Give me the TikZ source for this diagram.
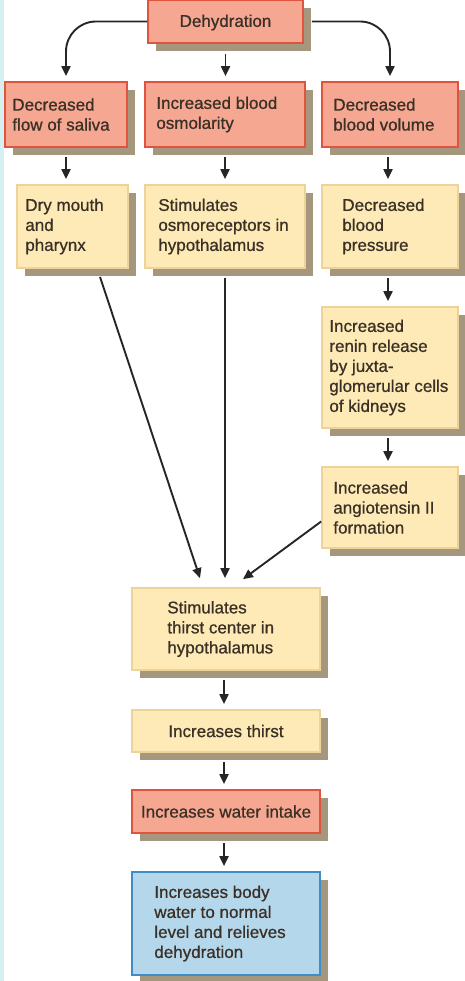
\documentclass[tikz,border=0pt]{standalone}
\usepackage{fontspec}
\setmainfont{Liberation Sans}
\newfontfamily\medfont{Liberation Sans}[FakeBold=0.8]
\usetikzlibrary{shadows,arrows.meta}
\definecolor{salmonf}{HTML}{F5A792}
\definecolor{salmonline}{HTML}{E0533C}
\definecolor{yellf}{HTML}{FDEAB6}
\definecolor{yellline}{HTML}{EDD29A}
\definecolor{bluef}{HTML}{B5D7EB}
\definecolor{blueline}{HTML}{3E8DC6}
\definecolor{shad}{HTML}{A4977E}
\definecolor{txtc}{HTML}{3A3026}
\definecolor{edgec}{HTML}{D6F0F2}
\begin{document}
\begin{tikzpicture}[x=1pt,y=-1pt,
  box/.style={rectangle, line width=1.7pt, inner sep=0pt,
    general shadow={fill=shad, shadow xshift=8pt, shadow yshift=-8pt}},
  redbox/.style={box, fill=salmonf, draw=salmonline},
  yellowbox/.style={box, fill=yellf, draw=yellline},
  bluebox/.style={box, fill=bluef, draw=blueline},
  txt/.style={font=\medfont\fontsize{17}{20}\selectfont, text=txtc, align=left, inner sep=0pt, anchor=west},
  ctxt/.style={font=\medfont\fontsize{17}{20}\selectfont, text=txtc, align=center, inner sep=0pt},
  arr/.style={line width=1.9pt, draw=black!85, -{Triangle[length=10pt,width=9pt]}}
]
\useasboundingbox (0,0) rectangle (465,981);
\fill[edgec] (0,0) rectangle (4,981);

% boxes
\node[redbox, minimum width=155pt, minimum height=43pt] (dehyd) at (225.5,21.5) {};
\node[redbox, minimum width=122pt, minimum height=65pt] (saliva) at (66,114.5) {};
\node[redbox, minimum width=160pt, minimum height=65pt] (osmol) at (225,114.5) {};
\node[redbox, minimum width=136pt, minimum height=65pt] (volume) at (390,114.5) {};
\node[yellowbox, minimum width=111pt, minimum height=83pt] (dry) at (72.5,226.5) {};
\node[yellowbox, minimum width=160pt, minimum height=83pt] (osmo) at (225,226.5) {};
\node[yellowbox, minimum width=136pt, minimum height=83pt] (bp) at (390,226.5) {};
\node[yellowbox, minimum width=136pt, minimum height=121pt] (renin) at (390,367.5) {};
\node[yellowbox, minimum width=136pt, minimum height=81pt] (angio) at (390,507.5) {};
\node[yellowbox, minimum width=188pt, minimum height=82pt] (center) at (226,629) {};
\node[yellowbox, minimum width=188pt, minimum height=42pt] (thirst) at (226,731) {};
\node[redbox, minimum width=188pt, minimum height=43pt] (intake) at (226,811.5) {};
\node[bluebox, minimum width=188pt, minimum height=103pt] (body) at (226,923.5) {};

% texts
\node[ctxt] (tdehyd) at ([yshift=-1pt]dehyd.center) {Dehydration};
\node[txt] (tsaliva) at ([xshift=8pt]saliva.west) {Decreased\\flow of saliva};
\node[txt] (tosmol) at ([xshift=12pt]osmol.west) {Increased blood\\osmolarity};
\node[txt] (tvolume) at ([xshift=12pt]volume.west) {Decreased\\blood volume};
\node[txt] (tdry) at ([xshift=9pt]dry.west) {Dry mouth\\and\\pharynx};
\node[txt] (tosmo) at ([xshift=14pt]osmo.west) {Stimulates\\osmoreceptors in\\hypothalamus};
\node[txt] (tbp) at ([xshift=21pt]bp.west) {Decreased\\blood\\pressure};
\node[txt] (trenin) at ([xshift=8pt]renin.west) {Increased\\renin release\\by juxta-\\glomerular cells\\of kidneys};
\node[txt] (tangio) at ([xshift=12pt]angio.west) {Increased\\angiotensin II\\formation};
\node[txt] (tcenter) at ([xshift=36pt]center.west) {Stimulates\\thirst center in\\hypothalamus};
\node[ctxt] (tthirst) at (thirst.center) {Increases thirst};
\node[ctxt] (tintake) at (intake.center) {Increases water intake};
\node[txt] (tbody) at ([xshift=23pt]body.west) {Increases body\\water to normal\\level and relieves\\dehydration};

% connectors
\draw[arr, rounded corners=30pt] (dehyd.west) -| ([yshift=5pt]saliva.north);
\draw[arr, rounded corners=30pt] ([xshift=8pt]dehyd.east) -| ([yshift=5pt]volume.north);
\draw[arr] ([yshift=-10pt]dehyd.south) -- ([yshift=5pt]dehyd.south |- osmol.north);
\draw[arr] ([yshift=-9pt]saliva.south) -- ([yshift=5pt]saliva.south |- dry.north);
\draw[arr] ([yshift=-9pt]osmol.south) -- ([yshift=5pt]osmol.south |- osmo.north);
\draw[arr] ([xshift=-2pt,yshift=-9pt]volume.south) -- ([xshift=-2pt,yshift=5pt]volume.south |- bp.north);
\draw[arr] ([xshift=-2pt,yshift=-9pt]bp.south) -- ([xshift=-2pt,yshift=5pt]bp.south |- renin.north);
\draw[arr] ([xshift=-2pt,yshift=-9pt]renin.south) -- ([xshift=-2pt,yshift=5pt]renin.south |- angio.north);
\draw[arr] ([xshift=27.5pt,yshift=-8pt]dry.south) -- ([xshift=-26pt,yshift=9pt]center.north);
\draw[arr] ([yshift=-9pt]osmo.south) -- ([yshift=9pt]osmo.south |- center.north);
\draw[arr] ([yshift=-14pt]angio.west) -- ([xshift=17pt,yshift=8pt]center.north);
\draw[arr] ([xshift=-2pt,yshift=-9pt]center.south) -- ([xshift=-2pt,yshift=5pt]center.south |- thirst.north);
\draw[arr] ([xshift=-2pt,yshift=-9pt]thirst.south) -- ([xshift=-2pt,yshift=5pt]thirst.south |- intake.north);
\draw[arr] ([xshift=-2pt,yshift=-9pt]intake.south) -- ([xshift=-2pt,yshift=5pt]intake.south |- body.north);
\end{tikzpicture}
\end{document}
